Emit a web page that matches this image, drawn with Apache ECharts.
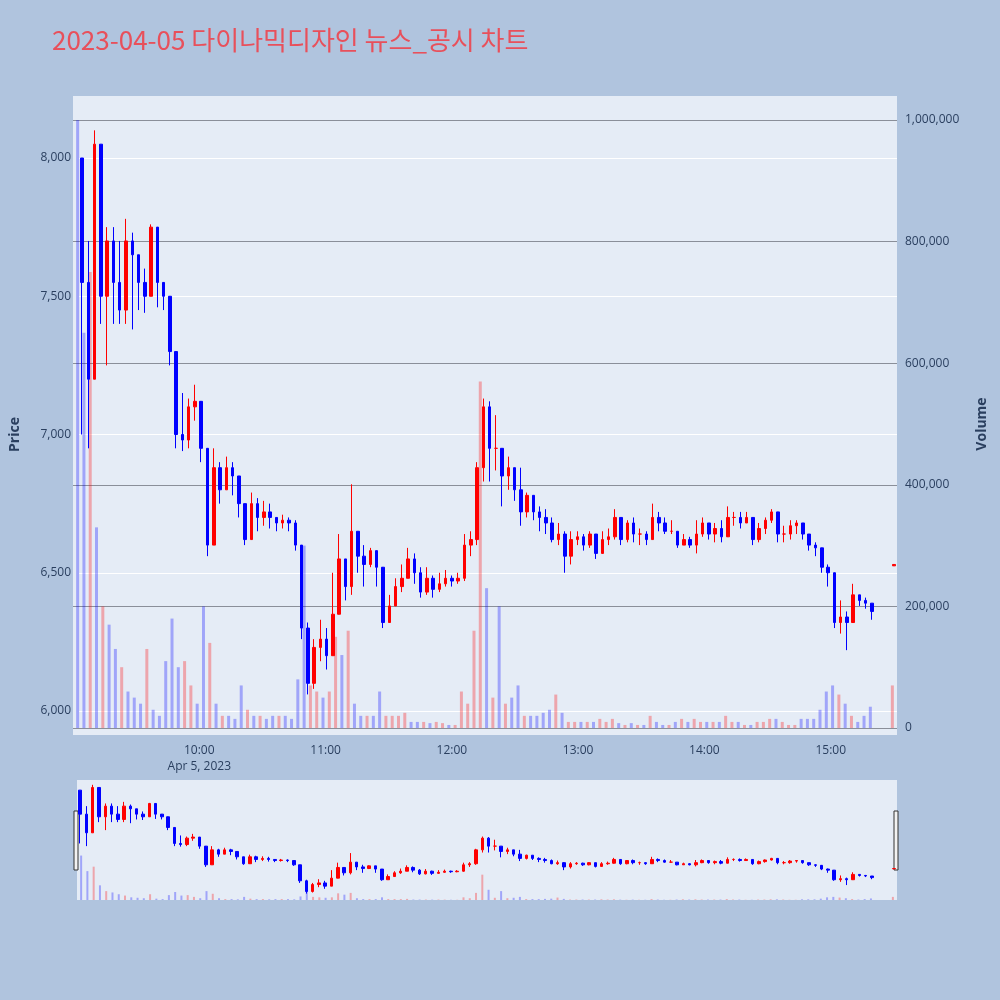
<!DOCTYPE html>
<html>
<head>
<meta charset="utf-8">
<script src="https://cdn.jsdelivr.net/npm/echarts@6/dist/echarts.min.js"></script>
<style>html,body{margin:0;background:#b0c4de}#chart{width:1000px;height:1000px}</style>
</head>
<body>
<div id="chart"></div>
<script>
// 3분 단위 캔들 (09:00 ~ 15:18) + 15:30 종가
const closes = [
  7550,7200,8050,7500,7700,7550,7450,7700,7650,7550,7500,7750,7550,7500,7300,7000,6980,7100,7120,6950,
  6600,6880,6800,6880,6850,6750,6620,6750,6700,6720,6700,6680,6690,6680,6600,6300,6100,6230,6260,6200,
  6350,6550,6450,6650,6560,6530,6580,6520,6320,6380,6450,6480,6550,6500,6430,6480,6440,6460,6480,6470,
  6480,6600,6620,6880,7100,6950,6950,6850,6880,6800,6720,6780,6720,6700,6680,6620,6640,6560,6620,6630,
  6600,6640,6570,6620,6630,6700,6620,6680,6640,6640,6620,6700,6680,6650,6650,6600,6620,6600,6640,6680,
  6640,6660,6630,6700,6700,6680,6700,6620,6660,6690,6720,6640,6640,6670,6680,6640,6600,6590,6520,6500,
  6320,6340,6320,6420,6400,6390,6360,6530
];
const highs = [
  8000,7700,8100,8050,7750,7750,7700,7780,7730,7650,7600,7760,7600,7530,7450,7300,7150,7130,7180,7100,
  6900,6950,6900,6920,6900,6850,6750,6790,6770,6760,6750,6700,6710,6700,6690,6600,6320,6260,6330,6300,
  6500,6640,6550,6820,6650,6600,6590,6580,6450,6420,6480,6530,6590,6570,6520,6520,6490,6500,6510,6490,
  6500,6640,6650,6900,7130,7120,7070,6950,6920,6880,6880,6790,6780,6740,6730,6700,6680,6650,6650,6650,
  6640,6650,6640,6650,6660,6730,6700,6690,6700,6660,6650,6750,6720,6700,6690,6650,6640,6630,6690,6700,
  6680,6680,6690,6740,6720,6720,6720,6700,6680,6700,6730,6700,6670,6690,6690,6680,6640,6610,6580,6530,
  6430,6400,6360,6460,6420,6410,6390,6530
];
const lows = [
  7000,6950,7200,7400,7250,7400,7400,7400,7380,7450,7440,7500,7460,7450,7250,6950,6940,6950,7050,6900,
  6560,6600,6750,6800,6780,6700,6600,6650,6650,6670,6660,6650,6660,6650,6580,6260,6060,6080,6180,6150,
  6200,6450,6400,6420,6500,6450,6520,6450,6300,6320,6380,6430,6480,6460,6410,6420,6410,6430,6450,6450,
  6460,6470,6560,6600,6830,6830,6870,6740,6800,6760,6670,6700,6690,6650,6640,6610,6600,6500,6530,6600,
  6580,6590,6550,6580,6600,6620,6600,6610,6610,6600,6600,6620,6650,6640,6640,6590,6600,6590,6570,6630,
  6620,6610,6610,6640,6670,6660,6680,6600,6610,6640,6680,6610,6610,6620,6640,6620,6580,6560,6500,6450,
  6300,6280,6220,6330,6380,6370,6330,6530
];
const firstOpen = 8000;
const closingAuctionOpen = 6525;
// 거래량 (천 주)
const volumesK = [
  1000,650,750,330,200,170,130,100,60,50,40,130,30,20,110,180,100,110,70,40,
  200,140,40,20,20,15,70,30,20,20,15,20,20,20,15,80,300,70,60,50,
  60,150,120,160,40,20,20,20,60,20,20,20,25,10,10,10,8,10,8,5,
  5,60,40,160,570,230,50,200,40,50,70,20,20,20,25,30,55,25,10,10,
  10,10,10,15,10,15,8,5,8,5,5,20,10,5,5,10,15,10,15,10,
  10,10,10,20,10,10,5,5,10,10,15,15,10,5,5,15,15,15,30,60,
  70,55,40,20,10,20,35,70
];

const t0 = new Date(2023, 3, 5, 9, 0).getTime();
const MIN = 60000;
const last = closes.length - 1;
const times = closes.map((c, i) => i < last ? t0 + (i * 3 + 1.5) * MIN : t0 + 390 * MIN);
const ohlc = closes.map((c, i) => {
  const o = i === 0 ? firstOpen : (i === last ? closingAuctionOpen : closes[i - 1]);
  return [times[i], o, c, lows[i], highs[i]];
});
const vols = volumesK.map((v, i) => ({
  value: [times[i], v * 1000],
  itemStyle: { color: ohlc[i][2] >= ohlc[i][1] ? 'rgba(255,0,0,0.3)' : 'rgba(0,0,255,0.3)' }
}));
const xMin = t0, xMax = t0 + 391.5 * MIN;
const candleStyle = { color: '#ff0000', color0: '#0000ff', borderColor: '#ff0000', borderColor0: '#0000ff' };

const chart = echarts.init(document.getElementById('chart'));
const xBase = { type: 'time', min: xMin, max: xMax, show: false };
chart.setOption({
  backgroundColor: '#b0c4de',
  animation: false,
  textStyle: { fontFamily: 'Open Sans, Noto Sans CJK KR' },
  title: {
    text: '2023-04-05 다이나믹디자인 뉴스_공시 차트', left: 47, top: 22,
    textStyle: { color: '#e8505b', fontSize: 26, fontWeight: 'normal', fontFamily: 'Noto Sans CJK KR' }
  },
  grid: [
    { left: 73, right: 103, top: 96, height: 639, show: true, backgroundColor: '#e5ecf6', borderWidth: 0 },
    { left: 73, right: 103, top: 158, height: 553 },
    { left: 73, right: 103, top: 120, height: 608 },
    { left: 77, right: 103, top: 780, height: 120, show: true, backgroundColor: '#e5ecf6', borderWidth: 0 }
  ],
  xAxis: [
    { type: 'time', gridIndex: 0, min: xMin, max: xMax, interval: 3600000,
      axisLine: { show: false }, axisTick: { show: false }, splitLine: { show: false },
      axisLabel: { color: '#2a3f5f', fontSize: 12, lineHeight: 16,
        formatter: v => { const d = new Date(v); const h = d.getHours();
          if (h === 9 || d.getMinutes() !== 0) return '';
          const s = h + ':00'; return h === 10 ? s + '\nApr 5, 2023' : s; } } },
    Object.assign({ gridIndex: 1 }, xBase),
    Object.assign({ gridIndex: 2 }, xBase),
    Object.assign({ gridIndex: 3 }, xBase),
    Object.assign({ gridIndex: 3 }, xBase)
  ],
  yAxis: [
    { type: 'value', gridIndex: 0, show: false, min: 0, max: 1 },
    { type: 'value', gridIndex: 1, min: 6000, max: 8000, interval: 500, position: 'left',
      name: 'Price', nameLocation: 'middle', nameGap: 57,
      nameTextStyle: { color: '#2a3f5f', fontSize: 14, fontWeight: 'bold' },
      axisLine: { show: false }, axisTick: { show: false },
      axisLabel: { color: '#2a3f5f', fontSize: 12, formatter: v => v.toLocaleString('en-US') },
      splitLine: { lineStyle: { color: '#ffffff', width: 1 } } },
    { type: 'value', gridIndex: 2, min: 0, max: 1000000, interval: 200000, position: 'right',
      name: 'Volume', nameLocation: 'middle', nameGap: 78,
      nameTextStyle: { color: '#2a3f5f', fontSize: 14, fontWeight: 'bold' },
      axisLine: { show: false }, axisTick: { show: false },
      axisLabel: { color: '#2a3f5f', fontSize: 12, formatter: v => v.toLocaleString('en-US') },
      splitLine: { lineStyle: { color: '#8a8f99', width: 1 } } },
    { type: 'value', gridIndex: 3, show: false, min: 5940, max: 8190 },
    { type: 'value', gridIndex: 3, show: false, min: 0, max: 2700000 }
  ],
  series: [
    { type: 'bar', xAxisIndex: 2, yAxisIndex: 2, data: vols, barWidth: 3, z: 1 },
    { type: 'candlestick', xAxisIndex: 1, yAxisIndex: 1, data: ohlc, clip: false,
      barWidth: 3, itemStyle: candleStyle, z: 3 },
    { type: 'bar', xAxisIndex: 4, yAxisIndex: 4, data: vols, barWidth: 2, z: 1 },
    { type: 'candlestick', xAxisIndex: 3, yAxisIndex: 3, data: ohlc,
      barWidth: 3, itemStyle: candleStyle, z: 3 }
  ],
  graphic: [
    { type: 'rect', shape: { x: 74, y: 811, width: 4, height: 59 }, style: { fill: '#f2f2f2', stroke: '#333', lineWidth: 1 } },
    { type: 'rect', shape: { x: 894, y: 811, width: 4, height: 59 }, style: { fill: '#f2f2f2', stroke: '#333', lineWidth: 1 } }
  ]
});
</script>
</body>
</html>
